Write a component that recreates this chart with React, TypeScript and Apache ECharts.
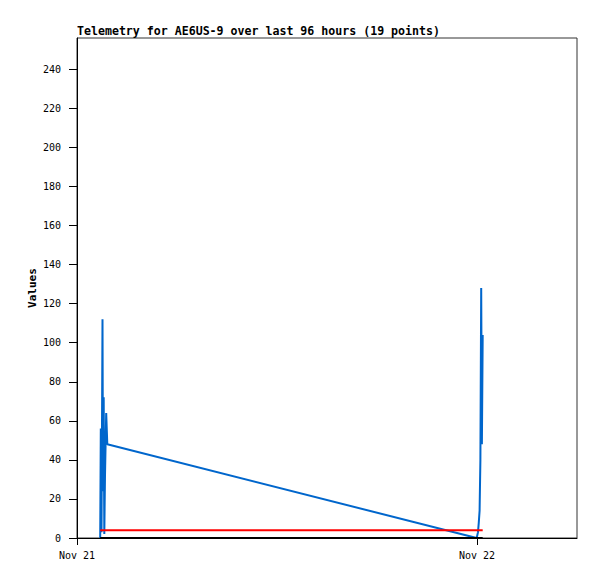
import React, { useEffect, useRef } from "react";
import * as echarts from "echarts";

const DAY = 86400000;
const NOV21 = Date.UTC(2024, 10, 21);
const NOV22 = Date.UTC(2024, 10, 22);

// Sample timestamps (UTC), as "YYYY-MM-DDTHH:MM:SSZ"
const times: string[] = [
  "2024-11-21T01:23:31Z",
  "2024-11-21T01:25:41Z",
  "2024-11-21T01:28:12Z",
  "2024-11-21T01:31:48Z",
  "2024-11-21T01:33:36Z",
  "2024-11-21T01:36:07Z",
  "2024-11-21T01:38:17Z",
  "2024-11-21T01:40:48Z",
  "2024-11-21T01:45:07Z",
  "2024-11-21T01:49:05Z",
  "2024-11-21T23:58:55Z",
  "2024-11-22T00:03:36Z",
  "2024-11-22T00:06:29Z",
  "2024-11-22T00:09:22Z",
  "2024-11-22T00:12:14Z",
  "2024-11-22T00:15:07Z",
  "2024-11-22T00:17:38Z",
  "2024-11-22T00:20:31Z",
  "2024-11-22T00:21:36Z",
];

const channelBlue: number[] = [0, 56, 3, 112, 24, 72, 2, 32, 64, 48, 0, 3, 8, 14, 40, 128, 48, 104, 104];
const channelRed: number[] = [4, 4, 4, 4, 4, 4, 4, 4, 4, 4, 4, 4, 4, 4, 4, 4, 4, 4, 4];
const channelBlack: number[] = [0, 0, 0, 0, 0, 0, 0, 0, 0, 0, 0, 0, 0, 0, 0, 0, 0, 0, 0];

const yTicks: number[] = [0, 20, 40, 60, 80, 100, 120, 140, 160, 180, 200, 220, 240];
const xTicks: number[] = [NOV21, NOV22];
const MONTHS = ["Jan", "Feb", "Mar", "Apr", "May", "Jun", "Jul", "Aug", "Sep", "Oct", "Nov", "Dec"];

const TITLE = "Telemetry for AE6US-9 over last 96 hours (19 points)";

function pairs(vals: number[]) {
  return times.map((t, i) => [Date.parse(t), vals[i]]);
}

export default function App() {
  const ref = useRef<HTMLDivElement>(null);
  useEffect(() => {
    if (!ref.current) return;
    const chart = echarts.init(ref.current, null, { renderer: "svg" });
    const mono = "'DejaVu Sans Mono', monospace";
    chart.setOption({
      animation: false,
      backgroundColor: "#ffffff",
      title: {
        text: TITLE,
        left: 72,
        top: 20,
        textStyle: { fontFamily: mono, fontSize: 11.6, fontWeight: "bold", color: "#000" },
      },
      grid: {
        left: 77,
        right: 20,
        top: 38,
        bottom: 41,
        show: true,
        borderColor: "#333",
        borderWidth: 1,
        backgroundColor: "transparent",
      },
      xAxis: {
        type: "value",
        min: NOV21,
        max: NOV21 + 1.25 * DAY,
        interval: DAY,
        splitLine: { show: false },
        axisLine: { show: true, onZero: false, lineStyle: { color: "#000", width: 1 } },
        axisTick: { show: true, length: 7, customValues: xTicks, lineStyle: { color: "#000" } },
        axisLabel: {
          customValues: xTicks,
          margin: 12,
          fontFamily: mono,
          fontSize: 10,
          color: "#000",
          formatter: (v: number) => {
            const d = new Date(v);
            return MONTHS[d.getUTCMonth()] + " " + d.getUTCDate();
          },
        },
      },
      yAxis: {
        type: "value",
        min: 0,
        max: 256,
        interval: 20,
        name: "Values",
        nameLocation: "middle",
        nameGap: 39,
        nameMoveOverlap: false,
        nameTextStyle: { fontFamily: mono, fontSize: 11, fontWeight: "bold", color: "#000" },
        splitLine: { show: false },
        axisLine: { show: true, lineStyle: { color: "#000", width: 1 } },
        axisTick: { show: true, length: 8, customValues: yTicks, lineStyle: { color: "#000" } },
        axisLabel: {
          customValues: yTicks,
          margin: 16,
          fontFamily: mono,
          fontSize: 10,
          color: "#000",
        },
      },
      series: [
        {
          type: "line",
          data: pairs(channelBlue),
          showSymbol: false,
          lineStyle: { color: "#0066cc", width: 2 },
          z: 2,
        },
        {
          type: "line",
          data: pairs(channelRed),
          showSymbol: false,
          lineStyle: { color: "#ff0000", width: 2 },
          z: 3,
        },
        {
          type: "line",
          data: pairs(channelBlack),
          showSymbol: false,
          lineStyle: { color: "#000000", width: 2 },
          z: 4,
        },
      ],
    });
    return () => chart.dispose();
  }, []);
  return (
    <div
      ref={ref}
      style={{ position: "fixed", left: 0, top: 0, width: 597, height: 579, background: "#fff" }}
    />
  );
}
